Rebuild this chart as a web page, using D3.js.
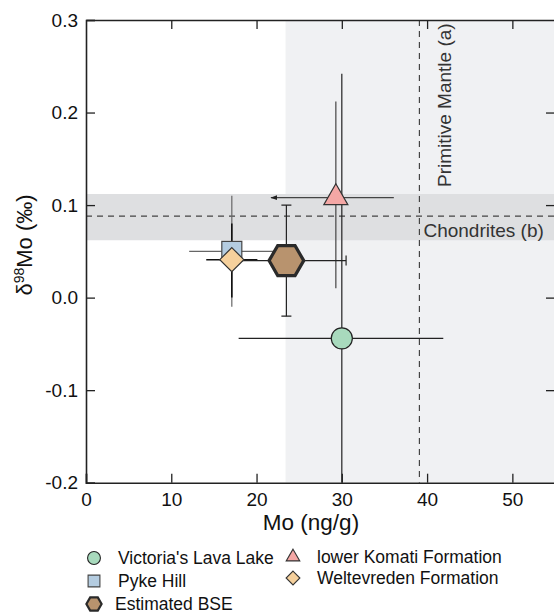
<!DOCTYPE html>
<html>
<head>
<meta charset="utf-8">
<script src="https://cdn.jsdelivr.net/npm/d3@7"></script>
<style>
    body { margin: 0; background: #fff; }
    text { font-family: "Liberation Sans", Arial, sans-serif; }
</style>
</head>
<body>
<script>

    //sample names, in legend order
    var names = ["Victoria's Lava Lake", "Pyke Hill", "Estimated BSE", "lower Komati Formation", "Weltevreden Formation"];

    //Mo concentration (ng/g) and its range
    var mo   = [30.0, 17.1, 23.5, 29.3, 17.1];
    var moLo = [17.9, 12.1, 16.5, 21.7, 14.1];
    var moHi = [41.9, 22.1, 30.5, 36.1, 20.1];

    //d98Mo (permil) and its range
    var d98   = [-0.044, 0.050, 0.040, 0.108, 0.041];
    var d98Lo = [-0.330, -0.010, -0.020, 0.010, 0.000];
    var d98Hi = [0.242, 0.110, 0.100, 0.212, 0.080];

    //reference values
    var pmMo = 39.1;                 //primitive mantle Mo
    var chondD98 = 0.088;            //chondrite d98Mo
    var chondBand = [0.062, 0.112];  //chondrite band
    var bseBand = 23.4;              //shaded region starts here

    var xTicks = [0, 10, 20, 30, 40, 50];
    var yTicks = [-0.2, -0.1, 0.0, 0.1, 0.2, 0.3];

    window.onload = setChart();

    function setChart(){

        var width = 554,
            height = 616;

        var svg = d3.select("body")
            .append("svg")
            .attr("width", width)
            .attr("height", height);

        var x = d3.scaleLinear().domain([0, 55]).range([86, 555]);
        var y = d3.scaleLinear().domain([-0.2, 0.3]).range([482.7, 20]);

        var defs = svg.append("defs");

        //clip to the plot frame
        defs.append("clipPath").attr("id", "plotclip")
            .append("rect")
            .attr("x", x(0)).attr("y", y(0.3))
            .attr("width", x(55) - x(0)).attr("height", y(-0.2) - y(0.3));

        //arrowhead for upper limit
        defs.append("marker")
            .attr("id", "arrow")
            .attr("viewBox", "0 0 10 10")
            .attr("refX", 9).attr("refY", 5)
            .attr("markerWidth", 7).attr("markerHeight", 7)
            .attr("markerUnits", "userSpaceOnUse")
            .attr("orient", "auto")
            .append("path")
            .attr("d", "M10,5 L0,1.5 L0,8.5 Z")
            .attr("fill", "#222");

        var plot = svg.append("g").attr("clip-path", "url(#plotclip)");

        //light region right of BSE
        plot.append("rect")
            .attr("x", x(bseBand)).attr("y", y(0.3))
            .attr("width", x(55) - x(bseBand)).attr("height", y(-0.2) - y(0.3))
            .attr("fill", "#f0f1f3");

        //chondrite band
        plot.append("rect")
            .attr("x", x(0)).attr("y", y(chondBand[1]))
            .attr("width", x(55) - x(0)).attr("height", y(chondBand[0]) - y(chondBand[1]))
            .attr("fill", "#dedfe1");

        //dashed reference lines
        plot.append("line")
            .attr("x1", x(0)).attr("x2", x(55))
            .attr("y1", y(chondD98)).attr("y2", y(chondD98))
            .attr("stroke", "#444").attr("stroke-width", 1.2)
            .attr("stroke-dasharray", "6,5");

        plot.append("line")
            .attr("x1", x(pmMo)).attr("x2", x(pmMo))
            .attr("y1", y(0.3)).attr("y2", y(-0.2))
            .attr("stroke", "#444").attr("stroke-width", 1.2)
            .attr("stroke-dasharray", "6,5");

        plot.append("text")
            .attr("transform", "translate(" + (x(pmMo) + 32) + "," + 187 + ") rotate(-90)")
            .attr("font-size", "19px")
            .attr("fill", "#333")
            .text("Primitive Mantle (a)");

        plot.append("text")
            .attr("x", x(pmMo) + 4)
            .attr("y", 237)
            .attr("font-size", "19px")
            .attr("fill", "#333")
            .text("Chondrites (b)");

        var errColor = ["#222", "#666", "#222", "#444", "#111"];
        var capped = [false, false, true, false, false];
        var arrow = [false, false, false, true, false];
        var drawOrder = [0, 3, 1, 4, 2];

        //error bars
        drawOrder.forEach(function(i){
            var g = plot.append("g")
                .attr("stroke", errColor[i])
                .attr("stroke-width", i == 4 ? 1.6 : 1.2);

            g.append("line")
                .attr("x1", x(mo[i])).attr("x2", x(mo[i]))
                .attr("y1", y(d98Lo[i])).attr("y2", y(d98Hi[i]));

            var hx = g.append("line")
                .attr("y1", y(d98[i])).attr("y2", y(d98[i]));
            if (arrow[i]){
                hx.attr("x1", x(moHi[i])).attr("x2", x(moLo[i]))
                    .attr("marker-end", "url(#arrow)");
            } else {
                hx.attr("x1", x(moLo[i])).attr("x2", x(moHi[i]));
            }

            if (capped[i]){
                [d98Lo[i], d98Hi[i]].forEach(function(v){
                    g.append("line")
                        .attr("x1", x(mo[i]) - 5).attr("x2", x(mo[i]) + 5)
                        .attr("y1", y(v)).attr("y2", y(v));
                });
                [moLo[i], moHi[i]].forEach(function(v){
                    g.append("line")
                        .attr("x1", x(v)).attr("x2", x(v))
                        .attr("y1", y(d98[i]) - 5).attr("y2", y(d98[i]) + 5);
                });
            }
        });

        //marker symbols
        var hexagon = {
            draw: function(context, size){
                var r = Math.sqrt(size / (1.5 * Math.sqrt(3)));
                for (var k = 0; k < 6; k++){
                    var a = k * Math.PI / 3;
                    if (k == 0) context.moveTo(r * Math.cos(a), r * Math.sin(a));
                    else context.lineTo(r * Math.cos(a), r * Math.sin(a));
                }
                context.closePath();
            }
        };
        var diamond = {
            draw: function(context, size){
                var r = Math.sqrt(size / 2);
                context.moveTo(0, -r);
                context.lineTo(r, 0);
                context.lineTo(0, r);
                context.lineTo(-r, 0);
                context.closePath();
            }
        };

        var symbols = [d3.symbolCircle, d3.symbolSquare, hexagon, d3.symbolTriangle, diamond];
        var fills = ["#a8dabd", "#b4cce0", "#b8936e", "#f4a7a5", "#f5d09c"];
        var strokes = ["#222", "#444", "#2a2a2a", "#333", "#333"];
        var strokeW = [1.2, 1.2, 3.2, 1.2, 1.2];
        var bigSize = [350, 400, 780, 250, 290];
        var smallSize = [130, 140, 150, 80, 95];

        drawOrder.forEach(function(i){
            plot.append("path")
                .attr("d", d3.symbol().type(symbols[i]).size(bigSize[i])())
                .attr("transform", "translate(" + x(mo[i]) + "," + y(d98[i]) + ")")
                .attr("fill", fills[i])
                .attr("stroke", strokes[i])
                .attr("stroke-width", strokeW[i]);
        });

        //axes, ticks inward on all sides
        var axisColor = "#222";
        var fmtY = function(d){ return d3.format(".1f")(d).replace("\u2212", "-"); };

        var left = svg.append("g")
            .attr("transform", "translate(" + x(0) + ",0)")
            .call(d3.axisLeft(y).tickValues(yTicks).tickSize(-9).tickPadding(8).tickFormat(fmtY));

        var bottom = svg.append("g")
            .attr("transform", "translate(0," + y(-0.2) + ")")
            .call(d3.axisBottom(x).tickValues(xTicks).tickSize(-9).tickPadding(10).tickFormat(d3.format("d")));

        var top = svg.append("g")
            .attr("transform", "translate(0," + y(0.3) + ")")
            .call(d3.axisTop(x).tickValues(xTicks.slice(1)).tickSize(-9).tickSizeOuter(0).tickFormat(""));

        var right = svg.append("g")
            .attr("transform", "translate(" + x(55) + ",0)")
            .call(d3.axisRight(y).tickValues(yTicks.slice(1, 5)).tickSize(-9).tickSizeOuter(0).tickFormat(""));

        [left, bottom, top, right].forEach(function(a){
            a.select(".domain").attr("stroke", axisColor).attr("stroke-width", 1.6);
            a.selectAll(".tick line").attr("stroke", axisColor).attr("stroke-width", 1.3);
            a.selectAll(".tick text")
                .attr("fill", "#111")
                .style("font-family", "'Liberation Sans', Arial, sans-serif")
                .attr("font-size", "19px");
        });

        //axis titles
        svg.append("text")
            .attr("x", 311).attr("y", 530)
            .attr("text-anchor", "middle")
            .attr("font-size", "22.5px")
            .attr("fill", "#111")
            .text("Mo (ng/g)");

        var ylab = svg.append("text")
            .attr("transform", "translate(32,245) rotate(-90)")
            .attr("text-anchor", "middle")
            .attr("font-size", "22px")
            .attr("fill", "#111");
        ylab.append("tspan").text("δ");
        ylab.append("tspan").attr("font-size", "14px").attr("dy", -8).text("98");
        ylab.append("tspan").attr("dy", 8).text("Mo (‰)");

        //legend
        var legX = [94, 94, 94, 293, 293];
        var legY = [558, 581, 604, 557, 578];
        var legTextX = [118, 118, 115, 317, 317];

        names.forEach(function(name, i){
            svg.append("path")
                .attr("d", d3.symbol().type(symbols[i]).size(smallSize[i])())
                .attr("transform", "translate(" + legX[i] + "," + legY[i] + ")")
                .attr("fill", fills[i])
                .attr("stroke", strokes[i])
                .attr("stroke-width", i == 2 ? 2.2 : 1.1);

            svg.append("text")
                .attr("x", legTextX[i])
                .attr("y", legY[i] + 6)
                .attr("font-size", "17.5px")
                .attr("fill", "#111")
                .text(name);
        });

    }; //end of setChart()

</script>
</body>
</html>
